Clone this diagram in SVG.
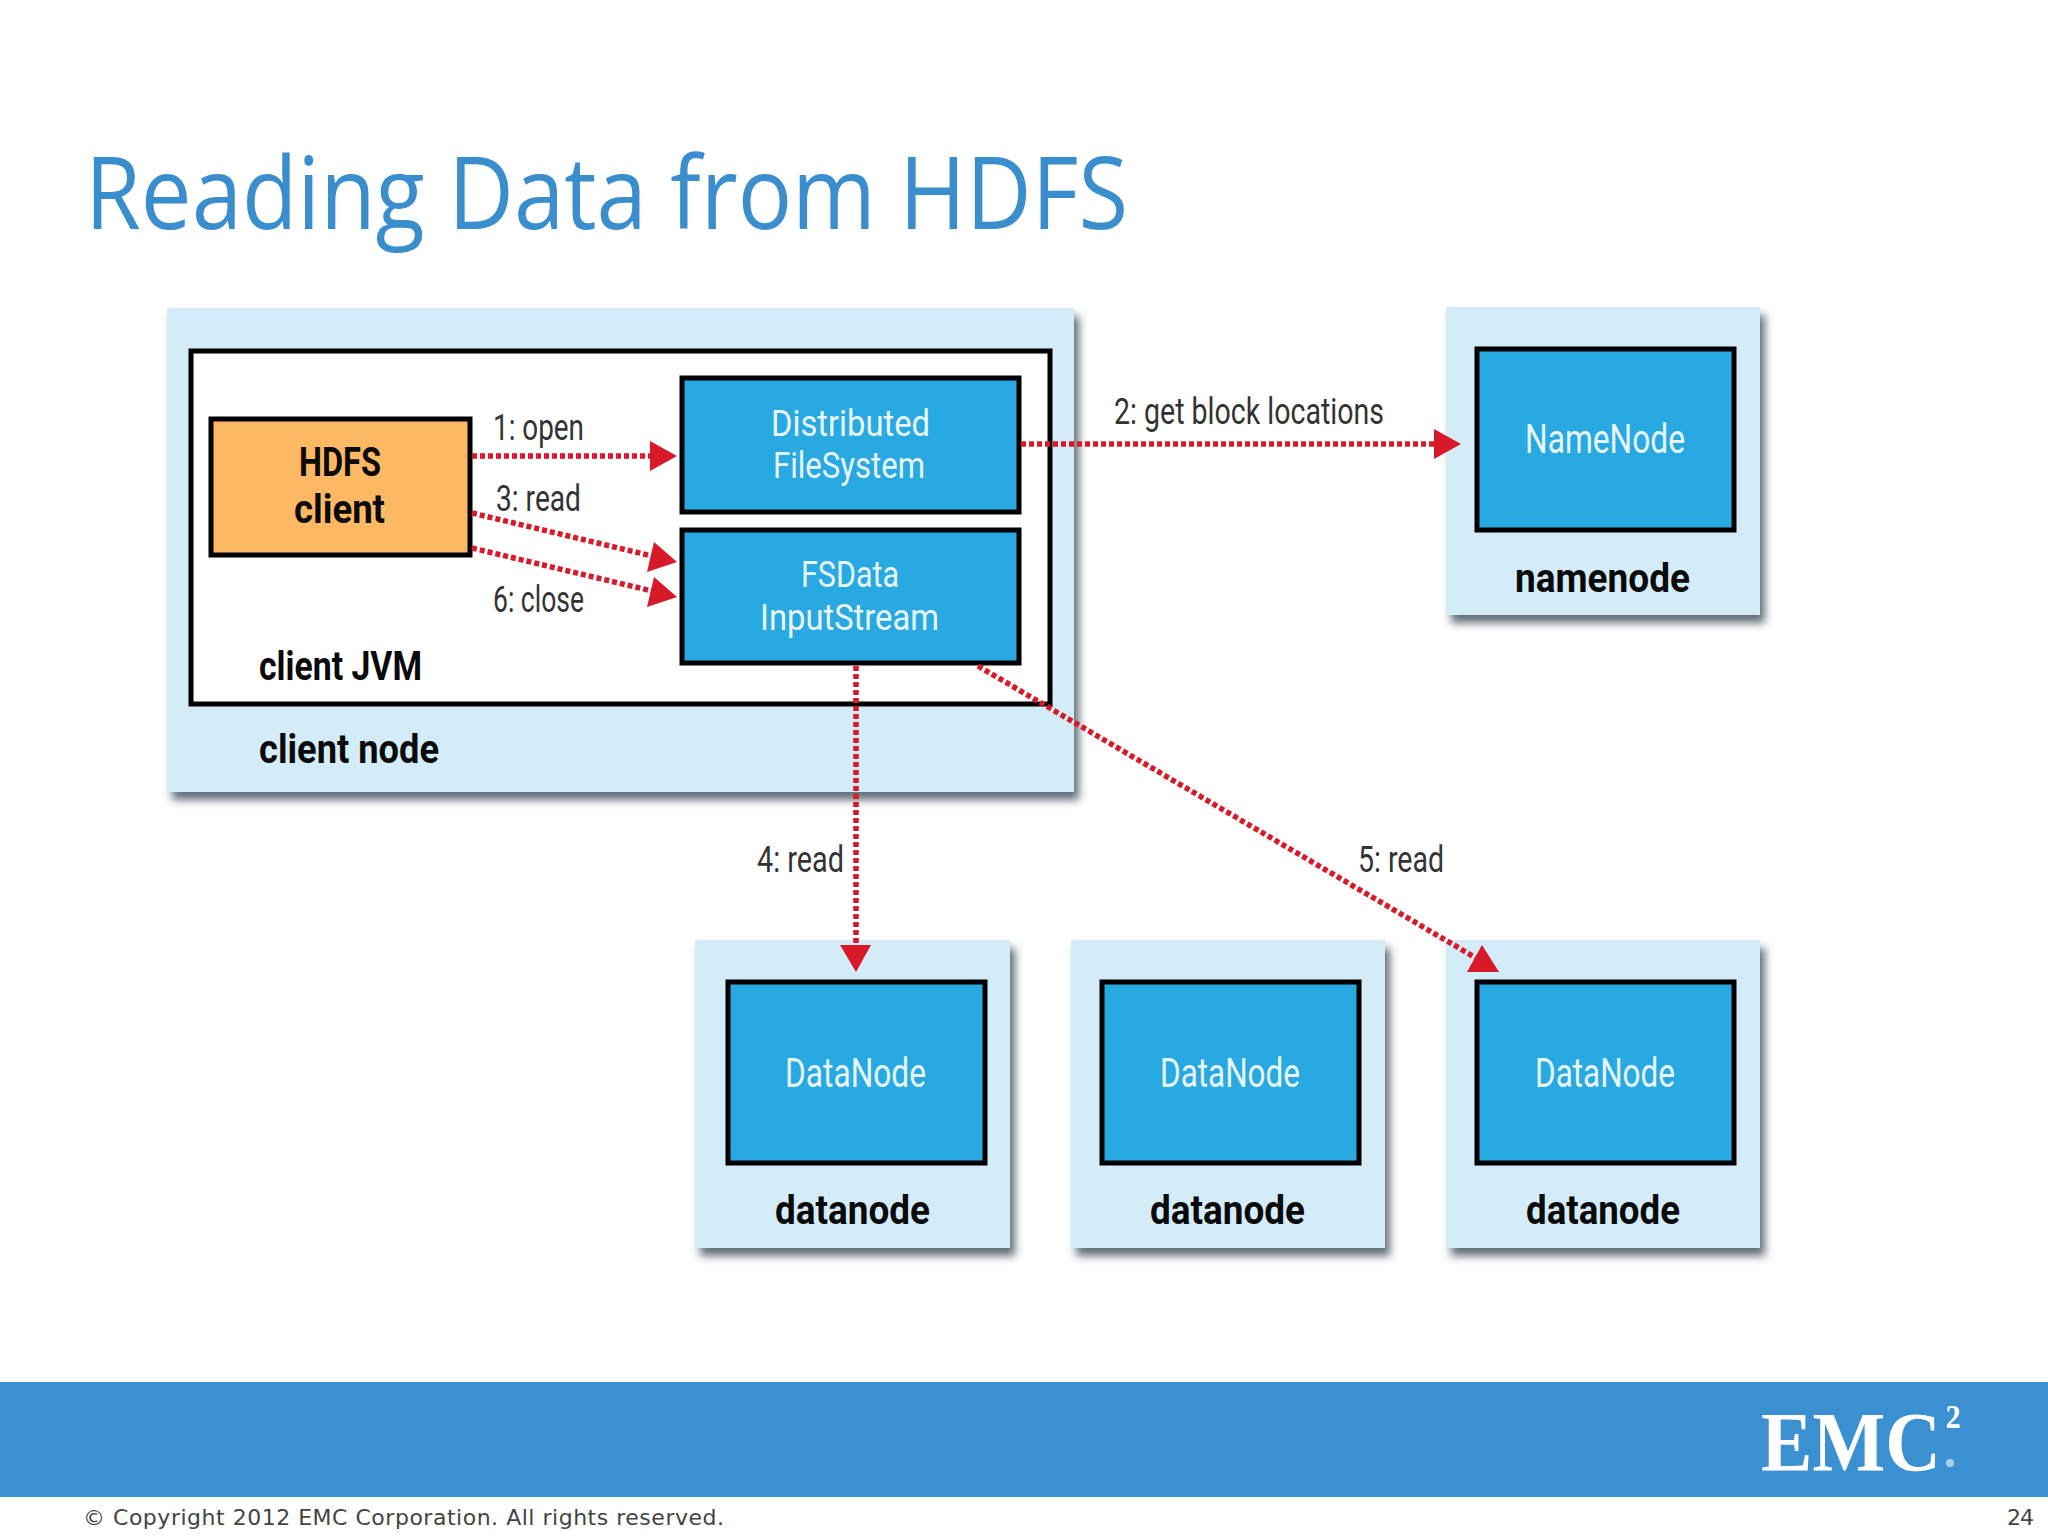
<svg xmlns="http://www.w3.org/2000/svg" width="2048" height="1536" viewBox="0 0 2048 1536">
<style>
text{font-family:Roboto,"Open Sans","Liberation Sans",sans-serif}
.title{font-family:"Open Sans","Noto Sans",sans-serif;font-size:100px;fill:#3a8ecd}
.logo{font-family:"Liberation Serif",serif;font-weight:700;fill:#fff}
.foot{font-family:"DejaVu Sans",sans-serif;font-size:22px;fill:#444}
.outer{fill:#d3ecf8;filter:url(#sh)}
.inner{fill:#29a9e1;stroke:#000;stroke-width:5}
.w{fill:#e8f6fc;font-size:40px;font-weight:400}
.w2{fill:#e8f6fc;font-size:36px;font-weight:400}
.b{fill:#0a0a0a;font-size:40px;font-weight:700}
.l{fill:#333;font-size:36px;font-weight:400}
.dot{fill:none;stroke:#d9182a;stroke-width:5.5;stroke-dasharray:5 3}
.head{fill:#d9182a}
</style>
<defs>
<filter id="sh" x="-5%" y="-5%" width="112%" height="112%">
<feDropShadow dx="5" dy="8" stdDeviation="4.5" flood-color="#4a5660" flood-opacity="0.85"/>
</filter>
</defs>
<rect width="2048" height="1536" fill="#fff"/>
<text class="title" x="85" y="229" textLength="1043" lengthAdjust="spacingAndGlyphs">Reading Data from HDFS</text>

<g id="client-node">
<rect class="outer" x="167" y="308" width="907" height="484"/>
<text class="b" x="259" y="763" textLength="180" lengthAdjust="spacingAndGlyphs">client node</text>
</g>
<g id="client-jvm">
<rect x="191" y="351" width="859" height="353" fill="#fff" stroke="#000" stroke-width="5"/>
<text class="b" x="259" y="680" textLength="163" lengthAdjust="spacingAndGlyphs">client JVM</text>
</g>
<g id="hdfs-client">
<rect x="211" y="419" width="259" height="136" fill="#fdb863" stroke="#000" stroke-width="5"/>
<text class="b" x="299" y="476" textLength="82" lengthAdjust="spacingAndGlyphs">HDFS</text>
<text class="b" x="294" y="523" textLength="91" lengthAdjust="spacingAndGlyphs">client</text>
</g>
<g id="distributed-filesystem">
<rect class="inner" x="682" y="378" width="337" height="134"/>
<text class="w2" x="771" y="436" textLength="159" lengthAdjust="spacingAndGlyphs">Distributed</text>
<text class="w2" x="773" y="478" textLength="152" lengthAdjust="spacingAndGlyphs">FileSystem</text>
</g>
<g id="fsdata-inputstream">
<rect class="inner" x="682" y="530" width="337" height="133"/>
<text class="w2" x="801" y="587" textLength="98" lengthAdjust="spacingAndGlyphs">FSData</text>
<text class="w2" x="760" y="630" textLength="179" lengthAdjust="spacingAndGlyphs">InputStream</text>
</g>
<g id="namenode">
<rect class="outer" x="1446" y="307" width="314" height="308"/>
<rect class="inner" x="1477" y="349" width="257" height="181"/>
<text class="w" x="1525" y="453" textLength="160" lengthAdjust="spacingAndGlyphs">NameNode</text>
<text class="b" x="1515" y="592" textLength="175" lengthAdjust="spacingAndGlyphs">namenode</text>
</g>
<g id="datanode-1">
<rect class="outer" x="695" y="940" width="315" height="308"/>
<rect class="inner" x="728" y="982" width="257" height="181"/>
<text class="w" x="785" y="1087" textLength="141" lengthAdjust="spacingAndGlyphs">DataNode</text>
<text class="b" x="775" y="1224" textLength="155" lengthAdjust="spacingAndGlyphs">datanode</text>
</g>
<g id="datanode-2">
<rect class="outer" x="1071" y="940" width="314" height="308"/>
<rect class="inner" x="1102" y="982" width="257" height="181"/>
<text class="w" x="1160" y="1087" textLength="140" lengthAdjust="spacingAndGlyphs">DataNode</text>
<text class="b" x="1150" y="1224" textLength="155" lengthAdjust="spacingAndGlyphs">datanode</text>
</g>
<g id="datanode-3">
<rect class="outer" x="1446" y="940" width="314" height="308"/>
<rect class="inner" x="1477" y="982" width="257" height="181"/>
<text class="w" x="1535" y="1087" textLength="140" lengthAdjust="spacingAndGlyphs">DataNode</text>
<text class="b" x="1526" y="1224" textLength="154" lengthAdjust="spacingAndGlyphs">datanode</text>
</g>

<g id="connectors">
<path class="dot" d="M472 456H652"/>
<polygon class="head" points="677,456 650,441 650,471"/>
<path class="dot" d="M472 513L652 556"/>
<polygon class="head" points="677,562 654,542 647,572"/>
<path class="dot" d="M472 548L652 591"/>
<polygon class="head" points="677,597 654,577 647,607"/>
<path class="dot" d="M1021 444H1436"/>
<polygon class="head" points="1461,444 1434,429 1434,459"/>
<path class="dot" d="M856 666V947"/>
<polygon class="head" points="856,972 840,945 871,945"/>
<path class="dot" d="M978 666L1476 958"/>
<polygon class="head" points="1482,945 1467,972 1499,972"/>
<text class="l" x="493" y="440" textLength="91" lengthAdjust="spacingAndGlyphs">1: open</text>
<text class="l" x="496" y="511" textLength="85" lengthAdjust="spacingAndGlyphs">3: read</text>
<text class="l" x="493" y="612" textLength="91" lengthAdjust="spacingAndGlyphs">6: close</text>
<text class="l" x="1114" y="424" textLength="270" lengthAdjust="spacingAndGlyphs">2: get block locations</text>
<text class="l" x="757" y="872" textLength="87" lengthAdjust="spacingAndGlyphs">4: read</text>
<text class="l" x="1358" y="872" textLength="86" lengthAdjust="spacingAndGlyphs">5: read</text>
</g>

<rect x="0" y="1382" width="2048" height="115" fill="#3a90d0"/>
<text class="logo" transform="translate(1761 1471) scale(.918 1)" font-size="84">EMC<tspan dx="5" dy="-43" font-size="33">2</tspan></text>
<circle cx="1950" cy="1463" r="4" fill="#a9d0ec"/>
<text class="foot" x="83" y="1525" textLength="641">© Copyright 2012 EMC Corporation. All rights reserved.</text>
<text class="foot" x="2007" y="1525" textLength="27">24</text>
</svg>
